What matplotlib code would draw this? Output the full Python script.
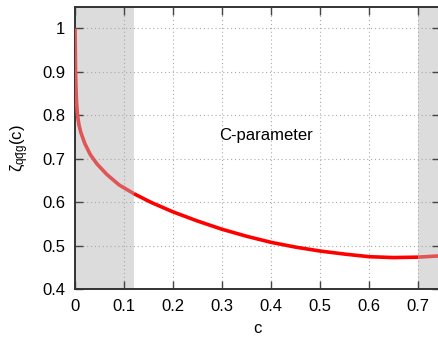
import matplotlib
matplotlib.use("Agg")
import matplotlib.pyplot as plt
import numpy as np

plt.rcParams['font.family'] = ['Liberation Sans', 'DejaVu Sans']
plt.rcParams['mathtext.fontset'] = 'custom'
plt.rcParams['mathtext.rm'] = 'Liberation Sans'
plt.rcParams['mathtext.it'] = 'Liberation Sans'

# values
c_vals = [0.0, 0.0005, 0.001, 0.002, 0.003, 0.005, 0.008, 0.012, 0.02, 0.031, 0.045,
          0.065, 0.09, 0.12, 0.155, 0.2, 0.25, 0.3, 0.35, 0.4, 0.45, 0.5, 0.55,
          0.6, 0.65, 0.7, 0.745]
zeta_vals = [1.0, 0.95, 0.9, 0.86, 0.83, 0.8, 0.778, 0.76, 0.735, 0.71, 0.688,
             0.664, 0.64, 0.62, 0.60, 0.578, 0.557, 0.538, 0.522, 0.508, 0.497, 0.488, 0.481,
             0.475, 0.473, 0.474, 0.477]
shade_ranges = [(0.0, 0.12), (0.7, 0.745)]
x_ticks = [0, 0.1, 0.2, 0.3, 0.4, 0.5, 0.6, 0.7]
y_ticks = [0.4, 0.5, 0.6, 0.7, 0.8, 0.9, 1.0]

c = np.array(c_vals)
z = np.array(zeta_vals)

fig = plt.figure(figsize=(4.39, 3.37), dpi=100)
ax = fig.add_axes([0.171, 0.1415, 0.832, 0.8385])

for lo, hi in shade_ranges:
    ax.axvspan(lo, hi, color='#dcdcdc', lw=0, zorder=0)

lo_mask = c <= 0.12
mid_mask = (c >= 0.12) & (c <= 0.7)
hi_mask = c >= 0.7
ax.plot(c[lo_mask], z[lo_mask], color='#e05555', lw=2.6, zorder=3, solid_capstyle='butt')
ax.plot(c[mid_mask], z[mid_mask], color='#ff0000', lw=2.6, zorder=3, solid_capstyle='butt')
ax.plot(c[hi_mask], z[hi_mask], color='#e05555', lw=2.6, zorder=3, solid_capstyle='butt')

ax.text(0.39, 0.753, 'C-parameter', fontsize=12, ha='center', va='center')

ax.set_xlim(0, 0.745)
ax.set_ylim(0.4, 1.05)
ax.set_xticks(x_ticks)
ax.set_xticklabels(['0', '0.1', '0.2', '0.3', '0.4', '0.5', '0.6', '0.7'])
ax.set_yticks(y_ticks)
ax.set_yticklabels(['0.4', '0.5', '0.6', '0.7', '0.8', '0.9', '1'])
ax.tick_params(direction='in', length=6, width=1, top=True, right=True,
               labelsize=12, color='#444444', pad=7)
ax.grid(True, color='#aaaaaa', linestyle=(0, (1, 2.5)), lw=0.8)
ax.set_axisbelow(True)
for s in ax.spines.values():
    s.set_linewidth(1.4)
    s.set_color('#333333')

ax.set_xlabel('c', fontsize=12, labelpad=5)
ax.set_ylabel(r'$\mathrm{\zeta_{q\bar{q}g}}$(c)', fontsize=12, labelpad=8)

fig.savefig('out.png', dpi=100)
